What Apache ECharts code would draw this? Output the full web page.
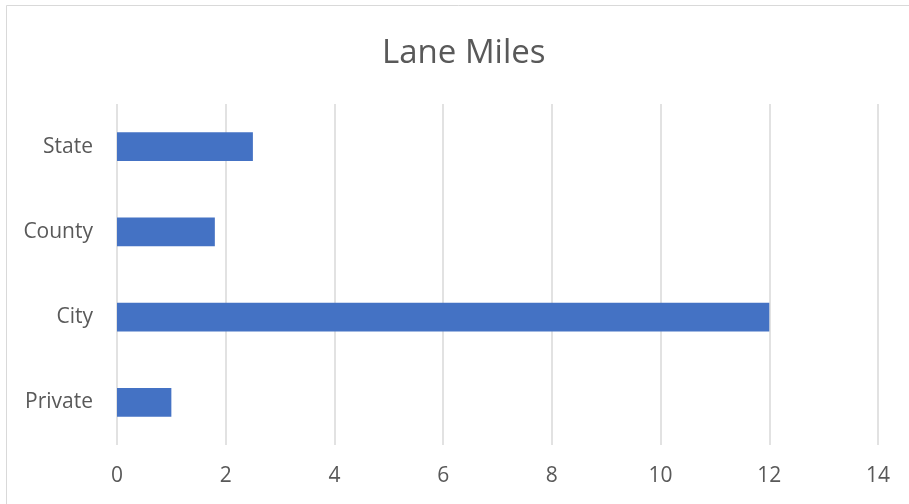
<!DOCTYPE html>
<html><head><meta charset="utf-8">
<script src="https://cdn.jsdelivr.net/npm/echarts@6/dist/echarts.min.js"></script>
<style>html,body{margin:0;padding:0;background:#fff;}#c{width:909px;height:504px;}</style>
</head><body><div id="c"></div>
<script>
const categories = ["State", "County", "City", "Private"];
const values = [2.5, 1.8, 12, 1.0];
const xTicks = [0, 2, 4, 6, 8, 10, 12, 14];

const chart = echarts.init(document.getElementById('c'), null, {renderer: 'canvas'});
chart.setOption({
  animation: false,
  backgroundColor: '#fff',
  graphic: [{type: 'rect', shape: {x: 6.5, y: 5.5, width: 1000, height: 1000}, style: {fill: 'none', stroke: '#d9d9d9', lineWidth: 1}}],
  title: {text: 'Lane Miles', left: 377, top: 32, textStyle: {fontFamily: 'Open Sans', fontSize: 33, fontWeight: 'normal', color: '#595959'}},
  grid: {left: 117, right: 31, top: 104, bottom: 59, containLabel: false},
  xAxis: {type: 'value', min: xTicks[0], max: xTicks[xTicks.length-1], interval: 2,
    axisLine: {show: false}, axisTick: {show: false},
    axisLabel: {color: '#595959', fontSize: 21, fontFamily: 'Open Sans', margin: 21},
    splitLine: {show: true, lineStyle: {color: '#d9d9d9', width: 1.5}}},
  yAxis: {type: 'category', data: categories, inverse: true,
    axisLine: {show: false}, axisTick: {show: false},
    axisLabel: {color: '#595959', fontSize: 21, fontFamily: 'Open Sans', margin: 24, padding: [7, 0, 0, 0]}},
  series: [{type: 'bar', data: values, barWidth: '34%', itemStyle: {color: '#4472C4'}}]
});
</script></body></html>
